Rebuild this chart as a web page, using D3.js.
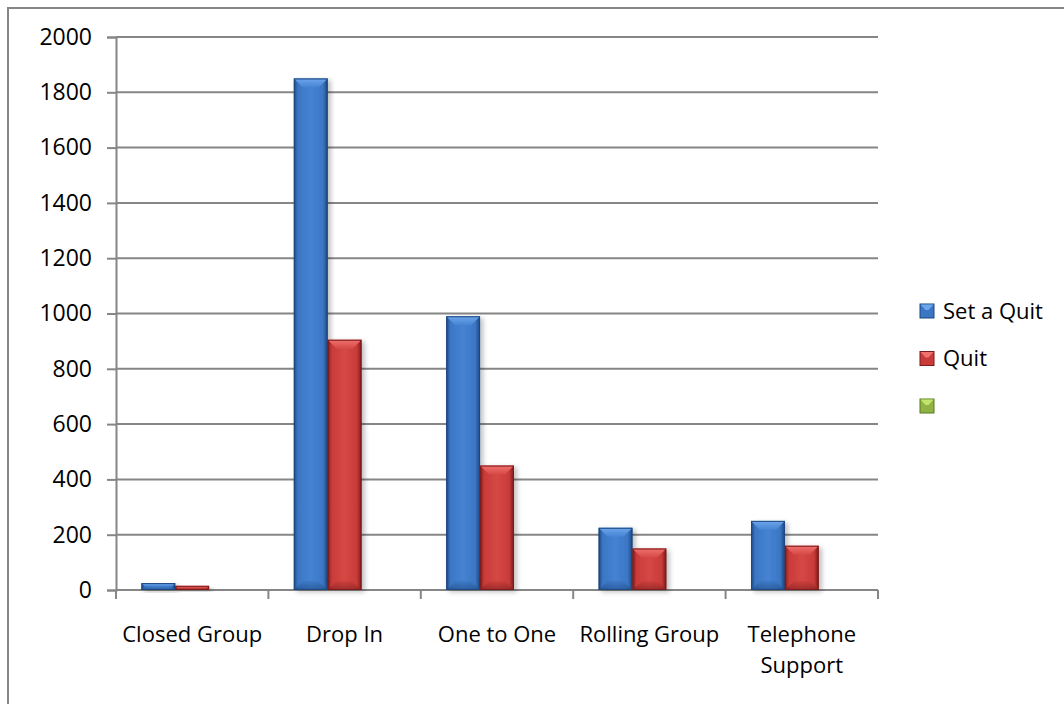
<!DOCTYPE html>
<html>
<head>
<meta charset="utf-8">
<script src="https://cdn.jsdelivr.net/npm/d3@7"></script>
<style>
  html, body { margin: 0; padding: 0; background: #fff; }
  svg { display: block; }
  text { font-family: "Open Sans", "Noto Sans", sans-serif; fill: #000; }
</style>
</head>
<body>
<svg id="chart" width="1064" height="704"></svg>
<script>
// Programme outcomes by type of support
const categories = ["Closed Group", "Drop In", "One to One", "Rolling Group", "Telephone Support"];
const seriesNames = ["Set a Quit", "Quit", ""];
const setAQuit = [25, 1850, 990, 225, 250];
const quit = [15, 905, 450, 150, 160];
const third = [null, null, null, null, null];
const yTicks = [0, 200, 400, 600, 800, 1000, 1200, 1400, 1600, 1800, 2000];

const seriesValues = [setAQuit, quit, third];
const palette = [
  { body: "#3b76c4", light: "#6ea6ec", dark: "#1c477f", mid: "#4583d2" },
  { body: "#c93b39", light: "#f0716f", dark: "#7a1c1b", mid: "#d54845" },
  { body: "#8fb443", light: "#c4e36c", dark: "#5b7a22", mid: "#9cc24f" }
];

const svg = d3.select("#chart");
const margin = { left: 116, top: 37, right: 878, bottom: 590 };

const x = d3.scaleBand().domain(categories).range([margin.left, margin.right]).paddingInner(0).paddingOuter(0);
const inner = d3.scaleBand().domain([0, 1, 2]).range([0, x.bandwidth()]).paddingInner(0).paddingOuter(0.75);
const y = d3.scaleLinear().domain([0, 2000]).range([margin.bottom, margin.top]);

// outer chart frame
svg.append("rect").attr("x", 8).attr("y", 8).attr("width", 1070).attr("height", 720)
  .attr("fill", "#fff").attr("stroke", "#868686").attr("stroke-width", 2);

const defs = svg.append("defs");
palette.forEach((p, i) => {
  const g = defs.append("linearGradient").attr("id", "bar" + i).attr("x1", 0).attr("x2", 1).attr("y1", 0).attr("y2", 0);
  g.append("stop").attr("offset", "0%").attr("stop-color", p.dark);
  g.append("stop").attr("offset", "12%").attr("stop-color", p.body);
  g.append("stop").attr("offset", "50%").attr("stop-color", p.mid);
  g.append("stop").attr("offset", "86%").attr("stop-color", p.body);
  g.append("stop").attr("offset", "100%").attr("stop-color", p.dark);
  const t = defs.append("linearGradient").attr("id", "top" + i).attr("x1", 0).attr("x2", 0).attr("y1", 0).attr("y2", 1);
  t.append("stop").attr("offset", "0%").attr("stop-color", p.light);
  t.append("stop").attr("offset", "100%").attr("stop-color", p.mid);
  const b = defs.append("linearGradient").attr("id", "bot" + i).attr("x1", 0).attr("x2", 0).attr("y1", 0).attr("y2", 1);
  b.append("stop").attr("offset", "0%").attr("stop-color", p.body);
  b.append("stop").attr("offset", "100%").attr("stop-color", p.dark);
});
const shadow = defs.append("filter").attr("id", "shadow").attr("x", "-20%").attr("y", "-20%").attr("width", "150%").attr("height", "150%");
shadow.append("feGaussianBlur").attr("in", "SourceAlpha").attr("stdDeviation", 2.5);
shadow.append("feOffset").attr("dx", 3).attr("dy", 2).attr("result", "ob");
shadow.append("feComponentTransfer").append("feFuncA").attr("type", "linear").attr("slope", 0.25);
const merge = shadow.append("feMerge");
merge.append("feMergeNode");
merge.append("feMergeNode").attr("in", "SourceGraphic");

// gridlines
const grid = svg.append("g");
grid.selectAll("line").data(yTicks).join("line")
  .attr("x1", margin.left).attr("x2", margin.right)
  .attr("y1", d => y(d)).attr("y2", d => y(d))
  .attr("stroke", "#868686").attr("stroke-width", 2);

// y axis
const yAxis = svg.append("g").attr("transform", `translate(${margin.left},0)`)
  .call(d3.axisLeft(y).tickValues(yTicks).tickSize(9).tickPadding(15).tickFormat(d3.format("d")));
yAxis.select(".domain").attr("stroke", "#868686").attr("stroke-width", 2);
yAxis.selectAll(".tick line").attr("stroke", "#868686").attr("stroke-width", 2);
yAxis.selectAll(".tick text").attr("font-size", 23).attr("font-family", "'Open Sans', sans-serif").attr("fill", "#000");

// x axis
const xAxis = svg.append("g").attr("transform", `translate(0,${margin.bottom})`)
  .call(d3.axisBottom(x).tickSize(0).tickFormat(""));
xAxis.select(".domain").remove();
xAxis.append("line").attr("x1", margin.left).attr("x2", margin.right).attr("y1", 0).attr("y2", 0)
  .attr("stroke", "#868686").attr("stroke-width", 2);
const boundaries = categories.map(c => x(c)).concat([x(categories[categories.length - 1]) + x.bandwidth()]);
xAxis.selectAll(".bound").data(boundaries).join("line").attr("class", "bound")
  .attr("x1", d => d).attr("x2", d => d).attr("y1", 0).attr("y2", 9)
  .attr("stroke", "#868686").attr("stroke-width", 2);

// category labels
const lbl = svg.append("g");
categories.forEach(c => {
  const words = c === "Telephone Support" ? ["Telephone", "Support"] : [c];
  const t = lbl.append("text").attr("x", x(c) + x.bandwidth() / 2).attr("y", 642)
    .attr("text-anchor", "middle").attr("font-size", 22);
  words.forEach((w, i) => t.append("tspan").attr("x", x(c) + x.bandwidth() / 2).attr("dy", i === 0 ? 0 : 31).text(w));
});

// bars with bevelled faces
const bevel = 9;
const bars = svg.append("g");
seriesValues.forEach((vals, si) => {
  vals.forEach((v, ci) => {
    if (v == null) return;
    const bx = x(categories[ci]) + inner(si);
    const bw = inner.bandwidth();
    const by = y(v);
    const bh = y(0) - y(v);
    const g = bars.append("g").attr("filter", "url(#shadow)");
    g.append("rect").attr("x", bx).attr("y", by).attr("width", bw).attr("height", bh).attr("fill", `url(#bar${si})`);
    const bv = Math.min(bevel, bh / 2, bw / 2);
    g.append("path")
      .attr("d", `M${bx},${by}L${bx + bw},${by}L${bx + bw - bv},${by + bv}L${bx + bv},${by + bv}Z`)
      .attr("fill", `url(#top${si})`);
    g.append("path")
      .attr("d", `M${bx},${by + bh}L${bx + bw},${by + bh}L${bx + bw - bv},${by + bh - bv}L${bx + bv},${by + bh - bv}Z`)
      .attr("fill", `url(#bot${si})`).attr("opacity", 0.6);
    g.append("rect").attr("x", bx + 0.5).attr("y", by + 0.5).attr("width", bw - 1).attr("height", Math.max(bh - 1, 0))
      .attr("fill", "none").attr("stroke", palette[si].dark).attr("stroke-width", 1);
  });
});

// legend
const legend = svg.append("g");
seriesNames.forEach((name, i) => {
  const ly = 311 + i * 47.5;
  const p = palette[i];
  const sg = legend.append("g");
  sg.append("rect").attr("x", 920).attr("y", ly - 7).attr("width", 14).attr("height", 14).attr("fill", p.body).attr("stroke", p.dark).attr("stroke-width", 1);
  sg.append("path").attr("d", `M920.5,${ly - 6.5}L933.5,${ly - 6.5}L928.5,${ly - 1}L925.5,${ly - 1}Z`).attr("fill", p.light);
  legend.append("text").attr("x", 943).attr("y", ly).attr("dy", "0.35em").attr("font-size", 22).text(name);
});
</script>
</body>
</html>
